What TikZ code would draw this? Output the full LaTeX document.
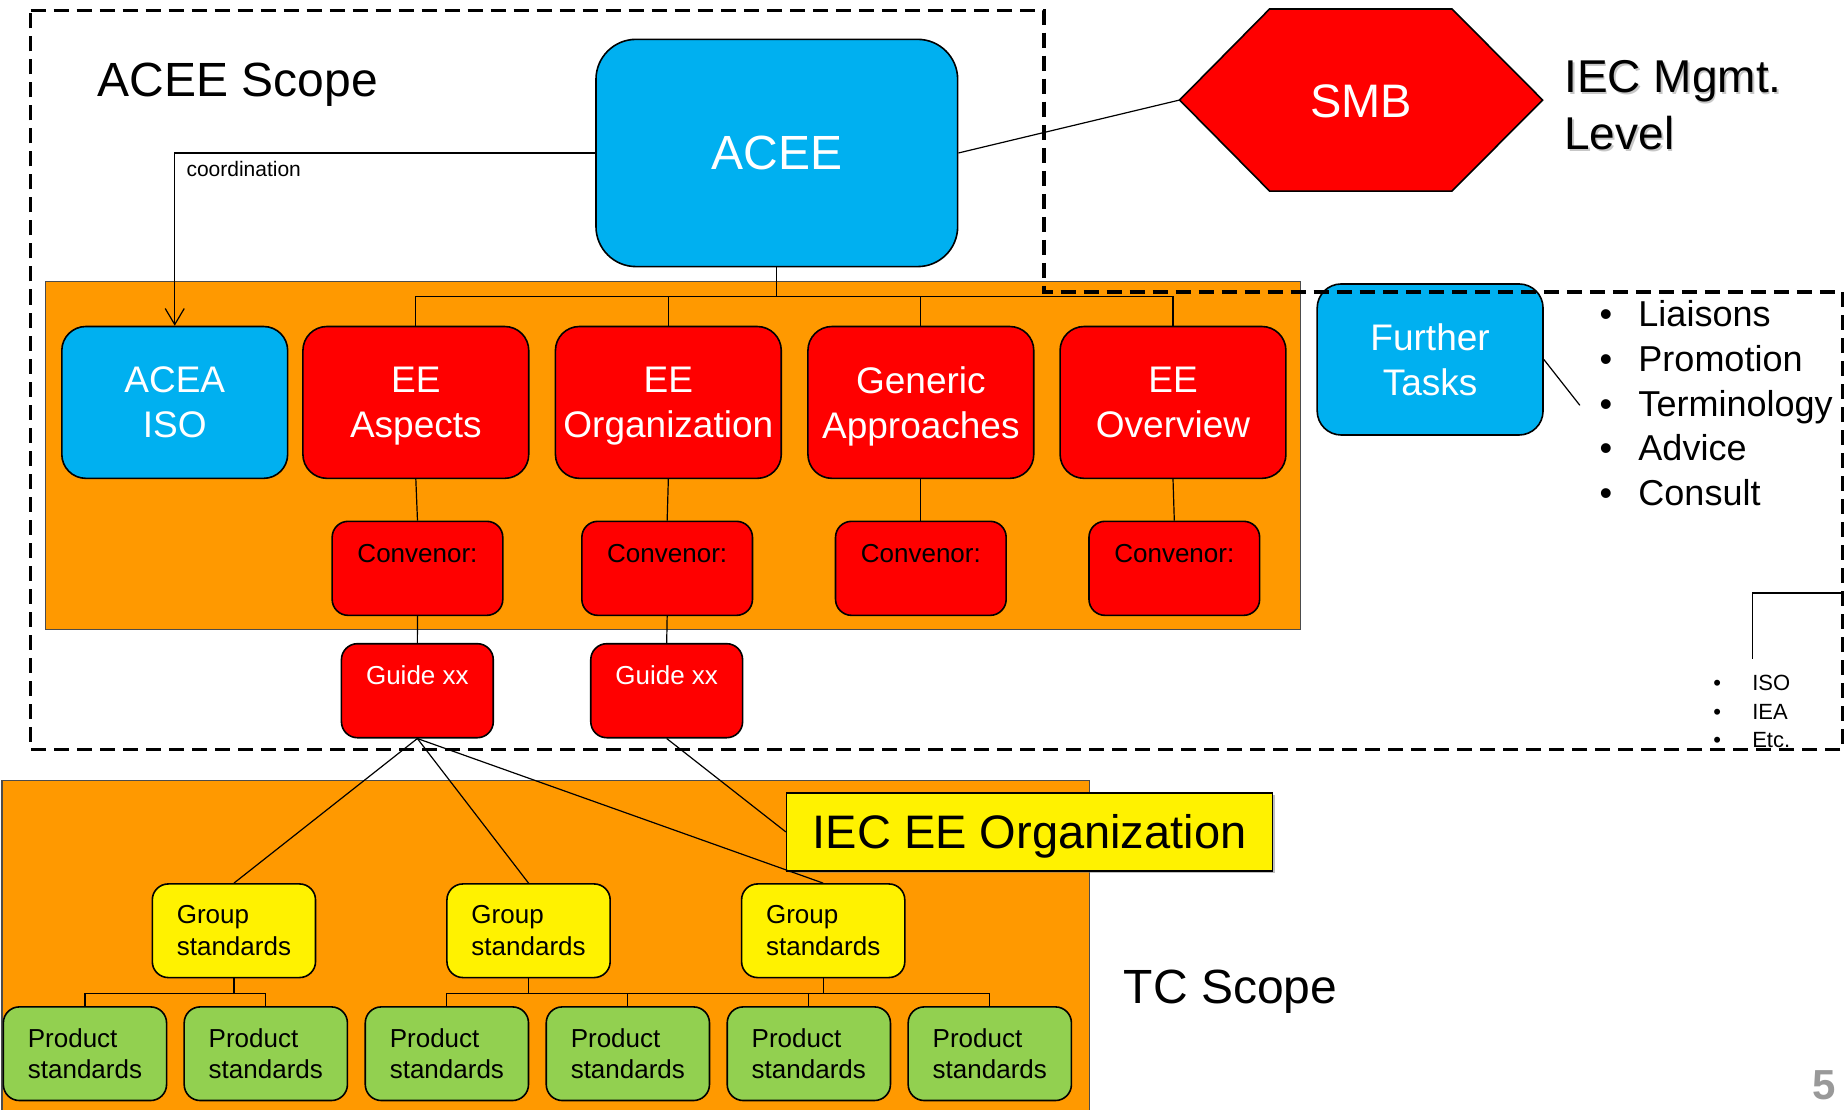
\documentclass[tikz,border=0pt]{standalone}
\usepackage{fontspec}
\setmainfont{Liberation Sans}
\usetikzlibrary{positioning,arrows.meta,shadows}

\definecolor{aceeblue}{HTML}{00B0F0}
\definecolor{scopeorange}{HTML}{FF9900}
\definecolor{stdgreen}{HTML}{92D050}

\newcommand{\fsz}[2]{\fontsize{#1}{#2}\selectfont}

\begin{document}
\begin{tikzpicture}[x=0.5882pt,y=-0.5882pt, line width=0.6pt,
  box/.style={draw=black, line width=0.8pt, rounded corners=#1, inner sep=0pt},
  box/.default=8pt,
  bigbox/.style={box=12pt, text=white, align=center, text depth=0pt, minimum width=112.9pt, minimum height=75.9pt, font=\fsz{18.5}{22.4}},
  convbox/.style={box, fill=red, minimum width=85.3pt, minimum height=47pt, text height=20.6pt, text depth=26.4pt, font=\fsz{13}{15.6}},
  guidebox/.style={convbox, text=white, minimum width=75.9pt},
  stdbox/.style={box, align=left, minimum width=81.6pt, minimum height=46.8pt, font=\fsz{13}{15.9}},
  bigtext/.style={inner sep=0pt, font=\fsz{24}{28.8}},
  taskitem/.style={anchor=base west, inner sep=0pt, font=\fsz{18}{21.6}},
  smallitem/.style={anchor=base west, inner sep=0pt, font=\fsz{11}{13.2}}
]
  \useasboundingbox (0,0) rectangle (1568,943);
  \clip (0,0) rectangle (1568,943);

  % Scope areas
  \draw[fill=scopeorange, draw=black!70] (39,239) rectangle (1105,535);
  \draw[fill=scopeorange, draw=black!70] (1.7,663) rectangle (926,960);
  \node[bigtext, anchor=base west] (aceescope) at (82.5,82) {ACEE Scope};
  \node[bigtext, anchor=base west] (tcscope) at (954.5,852.7) {TC Scope};

  % Management level
  \node[box=20pt, fill=aceeblue, text=white, minimum width=180.8pt, minimum height=113.6pt, font=\fsz{24}{28}] (acee) at (660.2,130) {ACEE};
  \filldraw[fill=red, draw=black, line width=0.8pt] (1002.5,85) coordinate (smbw) -- (1079,7.6) -- (1234,7.6)
    -- (1311,85) -- (1234,162.4) -- (1079,162.4) -- cycle;
  \node[text=white, font=\fsz{23.5}{28}] (smb) at (1157,86) {SMB};
  \node[anchor=north west, inner sep=0pt, align=left, text=black!22, xshift=0.9pt, yshift=-0.9pt, font=\fsz{23}{28.3}] (mgmtshadow) at (1329,51) {IEC Mgmt.\\Level};
  \node[anchor=north west, inner sep=0pt, align=left, font=\fsz{23}{28.3}] (mgmt) at (1329,51) {IEC Mgmt.\\Level};

  % Working groups
  \node[bigbox, fill=aceeblue] (acea) at (148.5,342) {ACEA\\ISO};
  \node[bigbox, fill=red] (aspects) at (353.4,342) {EE\\Aspects};
  \node[bigbox, fill=red] (eeorg) at (568,342) {EE\\Organization};
  \node[bigbox, fill=red] (generic) at (782.6,342) {Generic\\Approaches};
  \node[bigbox, fill=red] (overview) at (996.9,342) {EE\\Overview};
  \node[bigbox, fill=aceeblue, minimum height=75.5pt] (further) at (1215.4,305.5) {Further\\Tasks};

  \node[convbox] (conv1) at (354.8,483) {Convenor:};
  \node[convbox] (conv2) at (567,483) {Convenor:};
  \node[convbox] (conv3) at (782.6,483) {Convenor:};
  \node[convbox] (conv4) at (998,483) {Convenor:};

  \node[guidebox] (guide1) at (354.7,587) {Guide xx};
  \node[guidebox] (guide2) at (566.6,587) {Guide xx};

  % TC level
  \node[draw=black, line width=0.8pt, fill=yellow, minimum width=242.9pt, minimum height=38.8pt, inner sep=0pt, text depth=0pt,
    drop shadow={shadow xshift=1pt, shadow yshift=-1pt, fill=black!50, opacity=.5}, font=\fsz{23.5}{28}] (ieclbl) at (875,707) {IEC EE Organization};
  \foreach \x [count=\i] in {198.8,449.2,699.6}
    \node[stdbox, fill=yellow] (group\i) at (\x,791) {Group\\standards};
  \foreach \x [count=\i] in {72.2,225.9,379.8,533.6,687.4,841.2}
    \node[stdbox, fill=stdgreen] (prod\i) at (\x,895.5) {Product\\standards};

  % Lists
  \foreach \t [count=\i] in {Liaisons,Promotion,Terminology,Advice,Consult}
    \node[taskitem] (task\i) at (1359,239.75+37.95*\i) {\makebox[19.4pt][l]{•}\t};
  \foreach \t [count=\i] in {ISO,IEA,Etc.}
    \node[smallitem] (org\i) at (1455.7,563+24.2*\i) {\makebox[19.4pt][l]{•}\t};
  \node[anchor=north west, inner sep=0pt, text=black!40, font=\bfseries\fsz{21}{25}] (pagenum) at (1540,909) {5};

  % Connections
  \draw[-{Straight Barb[length=8pt,width=9.5pt]}] (acee.west) -| (acea.north);
  \node[anchor=base west, inner sep=0pt, font=\fsz{10.5}{12.6}] (coordlbl) at (158,149.6) {coordination};
  \draw (acee.east) -- (smbw);
  \coordinate (rowbus) at (660.2,252);
  \draw (acee.south) -- (rowbus);
  \foreach \n in {aspects,eeorg,generic,overview}
    \draw (rowbus) -| (\n.north);
  \foreach \n/\c in {aspects/conv1,eeorg/conv2,generic/conv3,overview/conv4}
    \draw (\n.south) -- (\c.north);
  \draw (conv1.south) -- (guide1.north);
  \draw (conv2.south) -- (guide2.north);
  \foreach \i in {1,2,3}
    \draw (guide1.south) -- (group\i.north);
  \draw (guide2.south) -- (ieclbl.west);
  \draw (group1.south) -- ++(0,12.6) coordinate (gbus1) -| (prod1.north) (gbus1) -| (prod2.north);
  \draw (group2.south) -- ++(0,12.6) coordinate (gbus2) -| (prod3.north) (gbus2) -| (prod4.north);
  \draw (group3.south) -- ++(0,12.6) coordinate (gbus3) -| (prod5.north) (gbus3) -| (prod6.north);
  \draw (gbus3) -- (gbus3 -| prod4.north);
  \coordinate (tasksend) at (1342.7,344.5);
  \draw (further.east) -- (tasksend);
  \coordinate (isotop) at (1489.5,560);
  \coordinate (isoend) at (1566,504);
  \draw (isotop) |- (isoend);

  % ACEE scope border
  \draw[line width=1.8pt, dash pattern=on 7.5pt off 4pt] (26,9) -- (887,9) -- (887,248) -- (1566,248)
    -- (1566,637) -- (26,637) -- cycle;
\end{tikzpicture}
\end{document}
